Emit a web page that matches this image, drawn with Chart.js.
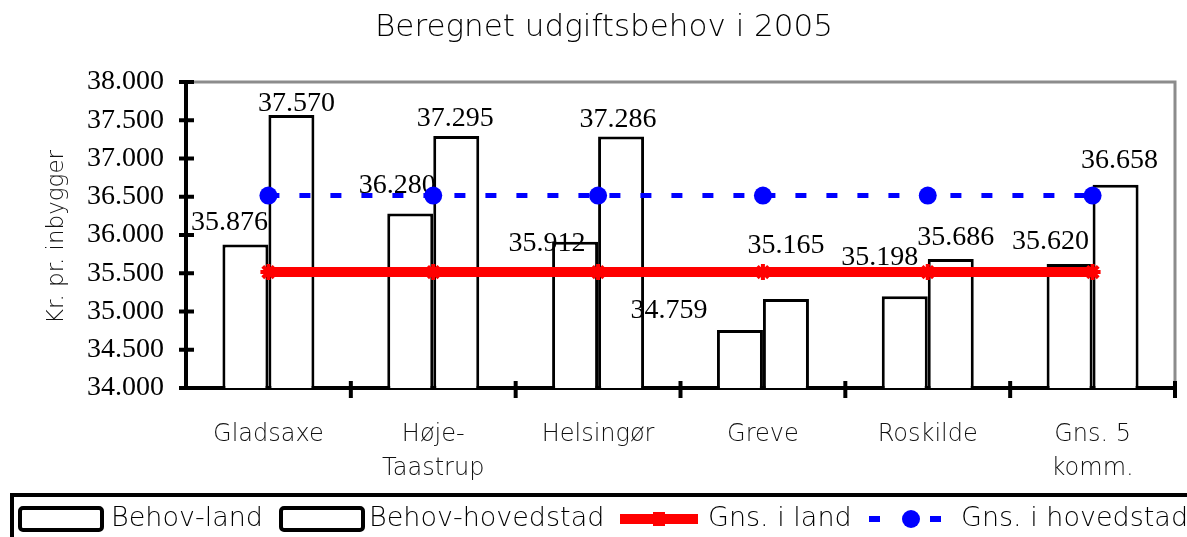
<!DOCTYPE html>
<html>
<head>
<meta charset="utf-8">
<script src="https://cdn.jsdelivr.net/npm/chart.js@4.4.0/dist/chart.umd.min.js"></script>
<style>
  html, body { margin: 0; padding: 0; background: #fff; }
  #wrap { width: 1187px; height: 537px; }
</style>
</head>
<body>
<div id="wrap"><canvas id="chart" width="1187" height="537"></canvas></div>
<script>
// Beregnet udgiftsbehov i 2005
const categories = ['Gladsaxe', ['Høje-', 'Taastrup'], 'Helsingør', 'Greve', 'Roskilde', ['Gns. 5', 'komm.']];
const behovLand = [35876, 36280, 35912, 34759, 35198, 35620];
const behovHovedstad = [37570, 37295, 37286, 35165, 35686, 36658];
const gnsLand = [35515, 35515, 35515, 35515, 35515, 35515];
const gnsHovedstad = [36515, 36515, 36515, 36515, 36515, 36515];
const yMin = 34000;
const yMax = 38000;
const yStep = 500;

const SANS = '"DejaVu Sans", sans-serif';
const SANS_W = 200;
const SERIF = '"Liberation Serif", "Times New Roman", serif';

// label nudges (dx, rise above bar top) - Excel had them moved by hand
const landNudge = [[-16, 22], [-13, 28], [-28, -2], [-71, 19], [-25, 39], [-19, 22]];
const hovedNudge = [[5, 11], [-1, 17], [-3, 17], [0, 53], [5, 21], [4, 24]];

function fmt(v) {
    const s = String(Math.round(v));
    return s.slice(0, s.length - 3) + '.' + s.slice(-3);
}

const valueLabels = {
    id: 'valueLabels',
    afterDatasetDraw(chart, args) {
        if (args.index > 1) return;
        const nudge = args.index === 0 ? landNudge : hovedNudge;
        const ctx = chart.ctx;
        ctx.save();
        ctx.font = '28px ' + SERIF;
        ctx.fillStyle = '#000';
        ctx.textAlign = 'center';
        ctx.textBaseline = 'middle';
        args.meta.data.forEach((bar, i) => {
            const v = chart.data.datasets[args.index].data[i];
            ctx.fillText(fmt(v), bar.x + nudge[i][0], bar.y - nudge[i][1]);
        });
        ctx.restore();
    }
};

const frame = {
    id: 'frame',
    beforeDatasetsDraw(chart) {
        const { ctx, chartArea: a } = chart;
        ctx.save();
        ctx.strokeStyle = '#8c8c8c';
        ctx.lineWidth = 3;
        ctx.beginPath();
        ctx.moveTo(a.left, a.top);
        ctx.lineTo(a.right, a.top);
        ctx.lineTo(a.right, a.bottom);
        ctx.stroke();
        ctx.restore();
    },
    afterDraw(chart) {
        const { ctx, chartArea: a } = chart;
        const y = chart.scales.y;
        ctx.save();
        ctx.strokeStyle = '#000';
        ctx.lineWidth = 4;
        // y ticks crossing the axis
        y.ticks.forEach(t => {
            const py = y.getPixelForValue(t.value);
            ctx.beginPath();
            ctx.moveTo(a.left - 7, py);
            ctx.lineTo(a.left + 8, py);
            ctx.stroke();
        });
        // x ticks between categories
        const n = chart.data.labels.length;
        const w = (a.right - a.left) / n;
        for (let i = 1; i <= n; i++) {
            const px = a.left + i * w;
            ctx.beginPath();
            ctx.moveTo(px, a.bottom - 7);
            ctx.lineTo(px, a.bottom + 10);
            ctx.stroke();
        }

        // title
        ctx.fillStyle = '#000';
        ctx.font = SANS_W + ' 31px ' + SANS;
        ctx.textAlign = 'center';
        ctx.textBaseline = 'alphabetic';
        ctx.fillText('Beregnet udgiftsbehov i 2005', 604, 36);

        // y title
        ctx.save();
        ctx.translate(57, 237);
        ctx.rotate(-Math.PI / 2);
        ctx.font = SANS_W + ' 23px ' + SANS;
        ctx.fillStyle = '#111';
        ctx.textBaseline = 'middle';
        ctx.fillText('Kr. pr. inbygger', 0, 0);
        ctx.restore();

        // legend
        const ds = chart.data.datasets;
        ctx.lineWidth = 4;
        ctx.strokeStyle = '#000';
        ctx.strokeRect(12, 495, 1200, 60);
        const cy = 519;
        ctx.font = SANS_W + ' 27px ' + SANS;
        ctx.textAlign = 'left';
        ctx.textBaseline = 'middle';
        ctx.fillStyle = '#000';

        function box(x) {
            ctx.fillStyle = '#fff';
            ctx.beginPath();
            ctx.roundRect(x, cy - 11, 82, 22, 3);
            ctx.fill();
            ctx.stroke();
            ctx.fillStyle = '#000';
        }
        box(20);
        ctx.fillText(ds[0].label, 111, cy);
        box(281);
        ctx.fillText(ds[1].label, 369, cy);

        ctx.strokeStyle = 'red';
        ctx.lineWidth = 10;
        ctx.beginPath();
        ctx.moveTo(620, cy);
        ctx.lineTo(698, cy);
        ctx.stroke();
        ctx.fillStyle = 'red';
        ctx.fillRect(653, cy - 7, 12, 14);
        ctx.fillStyle = '#000';
        ctx.fillText(ds[2].label, 708, cy);

        ctx.fillStyle = 'blue';
        ctx.fillRect(869, cy - 3, 11, 6);
        ctx.fillRect(930, cy - 3, 11, 6);
        ctx.beginPath();
        ctx.arc(911, cy, 9, 0, Math.PI * 2);
        ctx.fill();
        ctx.fillStyle = '#000';
        ctx.fillText(ds[3].label, 961, cy);
        ctx.restore();
    }
};

const ctx = document.getElementById('chart').getContext('2d');
new Chart(ctx, {
    type: 'bar',
    data: {
        labels: categories,
        datasets: [
            {
                label: 'Behov-land',
                data: behovLand,
                backgroundColor: '#fff',
                borderColor: '#000',
                borderWidth: 3,
                categoryPercentage: 0.558,
                barPercentage: 1,
                order: 2
            },
            {
                label: 'Behov-hovedstad',
                data: behovHovedstad,
                backgroundColor: '#fff',
                borderColor: '#000',
                borderWidth: 3,
                categoryPercentage: 0.558,
                barPercentage: 1,
                order: 2
            },
            {
                type: 'line',
                label: 'Gns. i land',
                data: gnsLand,
                borderColor: 'red',
                backgroundColor: 'red',
                borderWidth: 10,
                pointStyle: 'star',
                pointRadius: 8,
                pointBorderWidth: 4,
                pointBorderColor: 'red',
                order: 1
            },
            {
                type: 'line',
                label: 'Gns. i hovedstad',
                data: gnsHovedstad,
                borderColor: 'blue',
                backgroundColor: 'blue',
                borderWidth: 5,
                borderDash: [11, 20],
                pointRadius: 9,
                pointBorderWidth: 0,
                order: 0
            }
        ]
    },
    options: {
        responsive: false,
        animation: false,
        layout: { padding: { top: 82, right: 11, left: 0, bottom: 0 } },
        plugins: {
            legend: { display: false },
            title: { display: false },
            tooltip: { enabled: false }
        },
        scales: {
            x: {
                grid: { display: false },
                border: { display: true, color: '#000', width: 4 },
                ticks: {
                    color: '#111',
                    font: { family: SANS, size: 24, weight: SANS_W, lineHeight: 1.45 },
                    padding: 21,
                    maxRotation: 0,
                    autoSkip: false
                },
                afterFit(scale) { scale.height = 149; }
            },
            y: {
                min: yMin,
                max: yMax,
                grid: { display: false },
                border: { display: true, color: '#000', width: 4 },
                ticks: {
                    stepSize: yStep,
                    color: '#000',
                    font: { family: SERIF, size: 28 },
                    padding: 14,
                    callback: v => fmt(v)
                },
                afterFit(scale) { scale.width = 186; }
            }
        }
    },
    plugins: [valueLabels, frame]
});
</script>
</body>
</html>
